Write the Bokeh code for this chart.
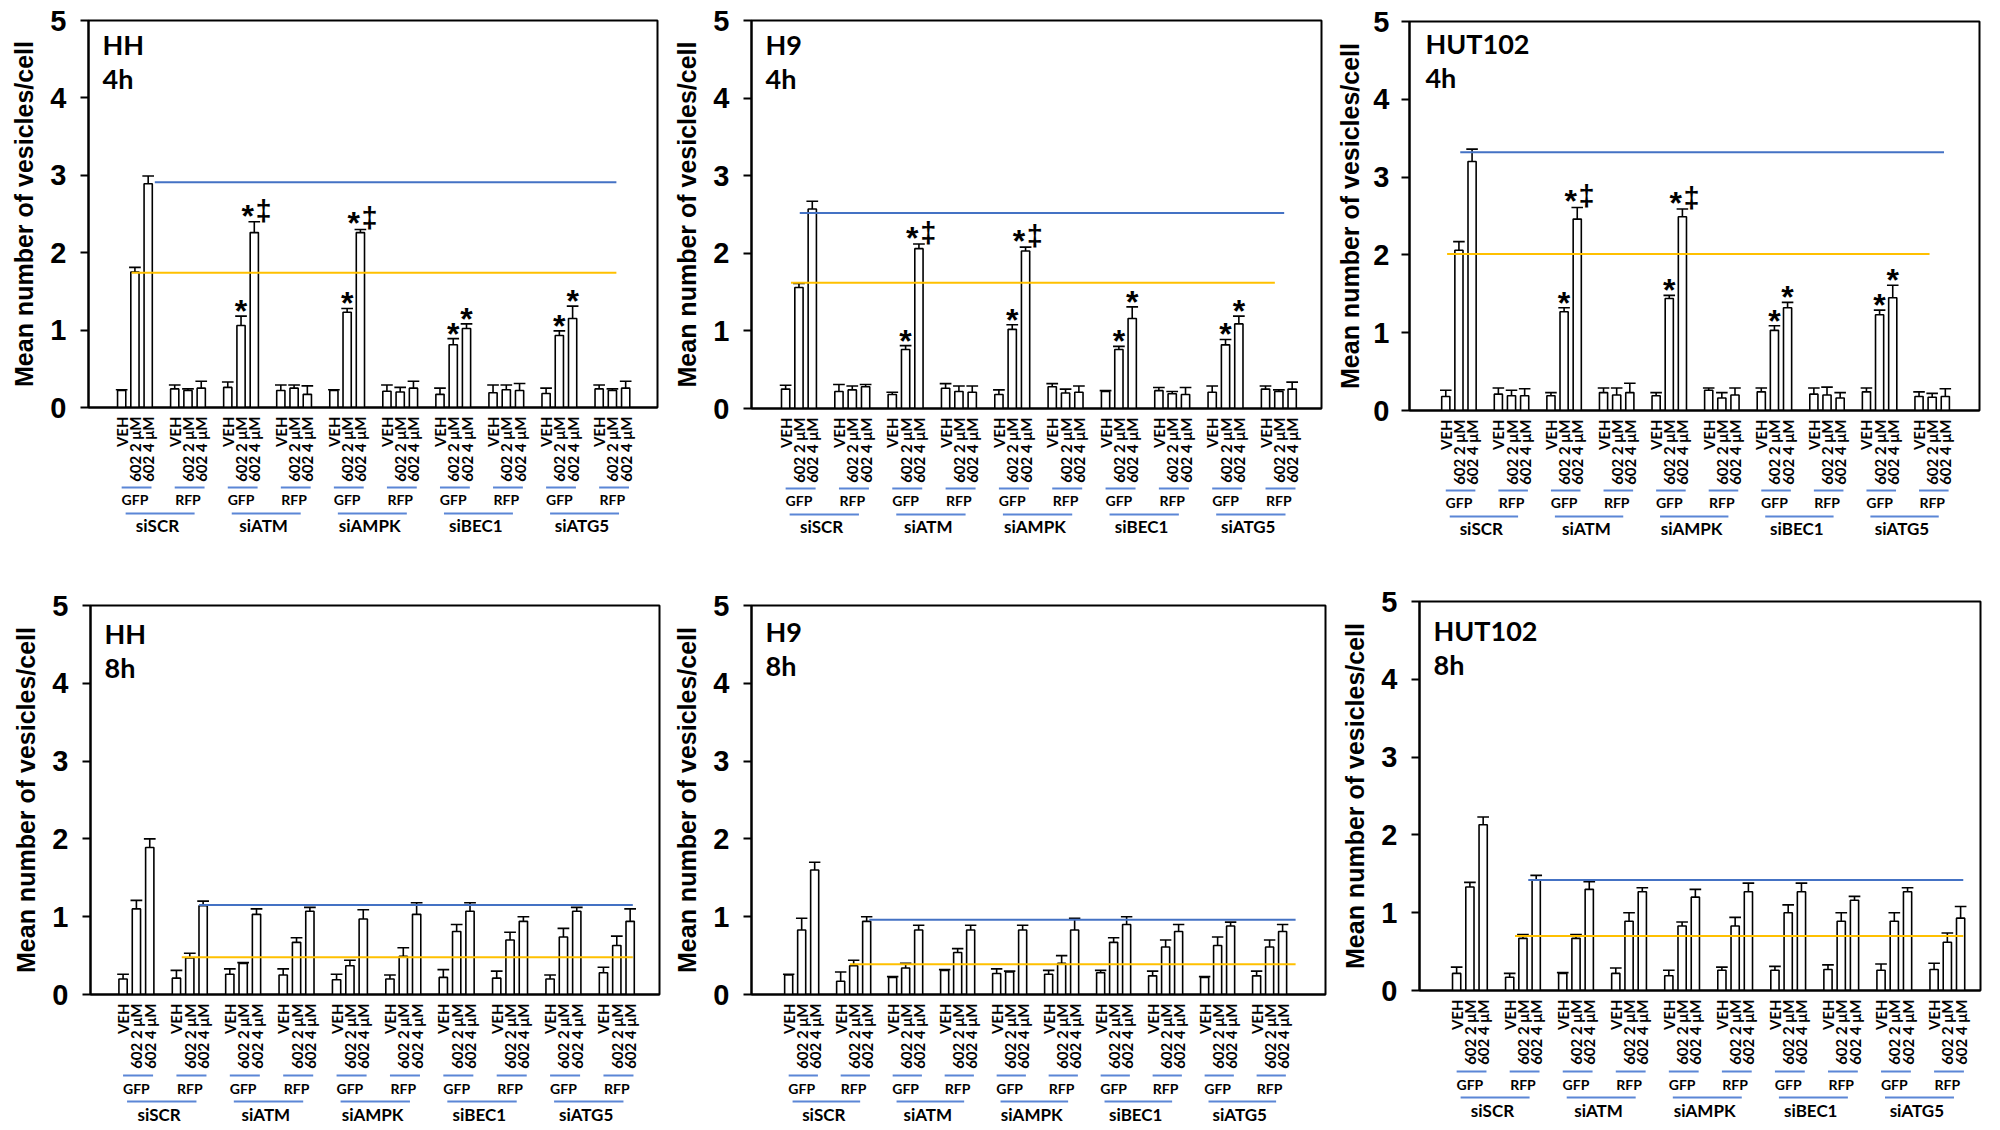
import math
from bokeh.plotting import figure
from bokeh.models import Range1d, FixedTicker, ColumnDataSource
from bokeh.layouts import column, row
from bokeh.embed import file_html
from bokeh.resources import INLINE
from bokeh.core.properties import value

# ---------------- data ----------------
treatments = ["VEH", "602 2 \u03bcM", "602 4 \u03bcM"]
vectors = ["GFP", "RFP"]
sirnas = ["siSCR", "siATM", "siAMPK", "siBEC1", "siATG5"]
y_ticks = [0, 1, 2, 3, 4, 5]
y_title = "Mean number of vesicles/cell"

hh_4h_mean = [0.22, 1.75, 2.89, 0.24, 0.22, 0.25, 0.26, 1.06, 2.26, 0.22, 0.25, 0.17,
              0.22, 1.23, 2.26, 0.21, 0.20, 0.25, 0.17, 0.81, 1.02, 0.19, 0.23, 0.22,
              0.18, 0.93, 1.15, 0.24, 0.22, 0.25]
hh_4h_err = [0.01, 0.06, 0.10, 0.05, 0.02, 0.09, 0.07, 0.12, 0.14, 0.07, 0.04, 0.11,
             0.01, 0.05, 0.04, 0.08, 0.06, 0.09, 0.08, 0.08, 0.06, 0.10, 0.06, 0.09,
             0.07, 0.06, 0.16, 0.05, 0.02, 0.09]

h9_4h_mean = [0.25, 1.56, 2.57, 0.22, 0.24, 0.28, 0.18, 0.76, 2.06, 0.26, 0.22, 0.21,
              0.18, 1.02, 2.03, 0.28, 0.20, 0.21, 0.22, 0.76, 1.16, 0.23, 0.19, 0.18,
              0.21, 0.82, 1.09, 0.25, 0.22, 0.25]
h9_4h_err = [0.05, 0.05, 0.10, 0.09, 0.05, 0.03, 0.03, 0.05, 0.06, 0.06, 0.07, 0.08,
             0.06, 0.06, 0.05, 0.04, 0.05, 0.08, 0.01, 0.04, 0.15, 0.04, 0.03, 0.09,
             0.08, 0.07, 0.10, 0.04, 0.02, 0.09]

hut_4h_mean = [0.18, 2.06, 3.20, 0.21, 0.19, 0.19, 0.19, 1.27, 2.46, 0.23, 0.20, 0.23,
               0.19, 1.44, 2.49, 0.26, 0.16, 0.20, 0.24, 1.03, 1.32, 0.21, 0.20, 0.16,
               0.24, 1.23, 1.45, 0.18, 0.17, 0.18]
hut_4h_err = [0.08, 0.11, 0.16, 0.08, 0.07, 0.09, 0.04, 0.05, 0.15, 0.06, 0.09, 0.12,
              0.04, 0.04, 0.10, 0.03, 0.07, 0.09, 0.05, 0.06, 0.07, 0.08, 0.10, 0.07,
              0.05, 0.06, 0.16, 0.06, 0.05, 0.10]

hh_8h_mean = [0.20, 1.10, 1.89, 0.21, 0.47, 1.14, 0.26, 0.40, 1.03, 0.25, 0.67, 1.07,
              0.19, 0.37, 0.97, 0.20, 0.49, 1.03, 0.22, 0.81, 1.07, 0.21, 0.70, 0.94,
              0.20, 0.74, 1.07, 0.28, 0.63, 0.94]
hh_8h_err = [0.06, 0.11, 0.11, 0.10, 0.06, 0.06, 0.07, 0.01, 0.07, 0.08, 0.06, 0.05,
             0.07, 0.07, 0.12, 0.05, 0.11, 0.15, 0.10, 0.09, 0.11, 0.09, 0.10, 0.06,
             0.05, 0.11, 0.05, 0.07, 0.12, 0.16]

h9_8h_mean = [0.25, 0.83, 1.60, 0.17, 0.37, 0.94, 0.22, 0.34, 0.83, 0.31, 0.54, 0.83,
              0.27, 0.29, 0.83, 0.26, 0.40, 0.83, 0.28, 0.67, 0.90, 0.24, 0.61, 0.81,
              0.22, 0.63, 0.88, 0.24, 0.61, 0.81]
h9_8h_err = [0.01, 0.15, 0.10, 0.12, 0.07, 0.06, 0.01, 0.06, 0.06, 0.01, 0.05, 0.06,
             0.06, 0.01, 0.06, 0.05, 0.10, 0.15, 0.03, 0.06, 0.10, 0.06, 0.09, 0.09,
             0.01, 0.11, 0.05, 0.06, 0.09, 0.09]

hut_8h_mean = [0.22, 1.33, 2.13, 0.17, 0.67, 1.42, 0.22, 0.67, 1.30, 0.22, 0.89, 1.27,
               0.19, 0.83, 1.20, 0.26, 0.83, 1.27, 0.26, 1.00, 1.27, 0.27, 0.89, 1.16,
               0.26, 0.89, 1.27, 0.27, 0.62, 0.93]
hut_8h_err = [0.08, 0.06, 0.10, 0.05, 0.05, 0.06, 0.01, 0.05, 0.10, 0.07, 0.11, 0.05,
              0.07, 0.05, 0.10, 0.04, 0.11, 0.11, 0.05, 0.10, 0.11, 0.06, 0.11, 0.05,
              0.08, 0.11, 0.05, 0.08, 0.12, 0.15]

star_bars_4h = [7, 8, 13, 14, 19, 20, 25, 26]
dagger_bars_4h = [8, 14]

ref_blue = [2.91, 2.52, 3.32, 1.15, 0.96, 1.42]
ref_yellow = [1.74, 1.62, 2.01, 0.48, 0.39, 0.70]

panels = [
    dict(cell="HH", time="4h", mean=hh_4h_mean, err=hh_4h_err, stars=star_bars_4h, daggers=dagger_bars_4h),
    dict(cell="H9", time="4h", mean=h9_4h_mean, err=h9_4h_err, stars=star_bars_4h, daggers=dagger_bars_4h),
    dict(cell="HUT102", time="4h", mean=hut_4h_mean, err=hut_4h_err, stars=star_bars_4h, daggers=dagger_bars_4h),
    dict(cell="HH", time="8h", mean=hh_8h_mean, err=hh_8h_err, stars=[], daggers=[]),
    dict(cell="H9", time="8h", mean=h9_8h_mean, err=h9_8h_err, stars=[], daggers=[]),
    dict(cell="HUT102", time="8h", mean=hut_8h_mean, err=hut_8h_err, stars=[], daggers=[]),
]

# ---------------- layout / style ----------------
ROW_H = [566, 564]
AX_B = 68  # space below the frame for the rotated treatment labels
# (width, row, border l, r, t, frame h, x range, blue ext, yellow ext,
#  label rows below axis, panel-label offsets, y standoffs)
geos = [
    (666, 0, 88, 9, 20, 396, (-2.5, 40.4), (2.5, 37.3), (0.75, 37.3), (71, 83, 97, 109), (14, 25, 59), (14, 9)),
    (667, 0, 85, 12, 20, 397, (-2.56, 40.2), (1.06, 37.4), (0.4, 36.7), (71, 83, 97, 109), (14, 25, 59), (14, 9)),
    (667, 0, 74, 21, 21, 398, (-2.76, 40.6), (1.1, 37.9), (0.1, 36.8), (71, 83, 97, 109), (16, 23, 57), (12, 6)),
    (666, 1, 90, 7, 39, 398, (-2.44, 40.2), (5.7, 38.2), (4.4, 38.2), (72, 85, 98, 111), (14, 29, 63), (14, 9)),
    (667, 1, 85, 8, 39, 398, (-2.86, 41.3), (6.2, 39.0), (4.7, 39.0), (72, 85, 98, 111), (14, 27, 61), (14, 9)),
    (667, 1, 86, 20, 35, 398, (-2.8, 39.5), (5.4, 38.2), (4.4, 38.2), (72, 85, 98, 111), (14, 30, 64), (14, 9)),
]

BLUE = "#4472C4"
YELLOW = "#FFC000"
ULINE = "#5B86D6"
LAB_FONT = "Lato"
NUM_FONT = "Liberation Sans"


def bar_slot(i):
    return 4 * (i // 3) + (i % 3)


def make_panel(k, spec, geo):
    W, r, bl, br, bt, fh, (x0, x1), bext, yext, rows, lab, stand = geo
    H = bt + fh + AX_B
    lab_h = ROW_H[r] - H
    fw = W - bl - br
    ux = fw / (x1 - x0)
    uy = fh / 5.0
    xr = Range1d(x0, x1)

    p = figure(width=W, height=H, x_range=xr, y_range=Range1d(0, 5),
               output_backend="svg", toolbar_location=None,
               min_border_left=bl, min_border_right=br, min_border_top=bt, min_border_bottom=AX_B)
    p.grid.visible = False
    p.outline_line_color = "black"
    p.outline_line_width = 2
    p.background_fill_color = "white"
    p.border_fill_color = "white"

    mean = spec["mean"]
    err = spec["err"]
    xs = [bar_slot(i) for i in range(len(mean))]
    caps = [m + e for m, e in zip(mean, err)]
    src = ColumnDataSource(dict(x=xs, top=mean, cap=caps,
                                cx0=[x - 0.44 for x in xs], cx1=[x + 0.44 for x in xs]))
    p.vbar(x="x", top="top", bottom=0, width=0.62, source=src,
           fill_color="white", line_color="black", line_width=1.6)
    p.segment(x0="x", y0="top", x1="x", y1="cap", source=src, line_color="black", line_width=1.6)
    p.segment(x0="cx0", y0="cap", x1="cx1", y1="cap", source=src, line_color="black", line_width=1.6)

    # reference lines
    p.segment(x0=[bext[0]], y0=[ref_blue[k]], x1=[bext[1]], y1=[ref_blue[k]],
              line_color=BLUE, line_width=2)
    p.segment(x0=[yext[0]], y0=[ref_yellow[k]], x1=[yext[1]], y1=[ref_yellow[k]],
              line_color=YELLOW, line_width=2)

    # significance marks
    st_x, st_y, st_off = [], [], []
    for i in spec["stars"]:
        both = i in spec["daggers"]
        st_x.append(xs[i] - (0.5 if both else 0.0))
        st_y.append(caps[i])
        st_off.append(-6 if both else -5)
    if st_x:
        ssrc = ColumnDataSource(dict(x=st_x, y=st_y, t=["*"] * len(st_x), off=st_off))
        p.text(x="x", y="y", text="t", y_offset="off", source=ssrc, text_align="center",
               text_baseline="middle", text_font=value(NUM_FONT), text_font_style="bold",
               text_font_size="32px", text_color="black")
    dg = spec["daggers"]
    if dg:
        dsrc = ColumnDataSource(dict(x=[xs[i] + 0.7 for i in dg], y=[caps[i] for i in dg],
                                     t=["\u2021"] * len(dg)))
        p.text(x="x", y="y", text="t", y_offset=-11, source=dsrc, text_align="center",
               text_baseline="middle", text_font=value(NUM_FONT), text_font_style="bold",
               text_font_size="29px", text_color="black")

    # panel labels (cell line, time)
    lsrc = ColumnDataSource(dict(x=[x0 + lab[0] / ux] * 2,
                                 y=[5 - lab[1] / uy, 5 - lab[2] / uy],
                                 t=[spec["cell"], spec["time"]]))
    p.text(x="x", y="y", text="t", source=lsrc, text_align="left", text_baseline="middle",
           text_font=value(LAB_FONT), text_font_style="bold", text_font_size="27px",
           text_color="black")

    # y axis
    yax = p.yaxis[0]
    yax.ticker = FixedTicker(ticks=y_ticks, minor_ticks=[])
    yax.axis_label = y_title
    yax.axis_label_text_font = NUM_FONT
    yax.axis_label_text_font_size = "25px"
    yax.axis_label_text_font_style = "bold"
    yax.axis_label_text_color = "black"
    yax.axis_label_standoff = stand[1]
    yax.major_label_text_font = NUM_FONT
    yax.major_label_text_font_size = "29px"
    yax.major_label_text_font_style = "bold"
    yax.major_label_text_color = "black"
    yax.major_label_standoff = stand[0]
    yax.major_tick_out = 8
    yax.major_tick_in = 0
    yax.major_tick_line_width = 2
    yax.major_tick_line_color = "black"
    yax.minor_tick_line_color = None
    yax.axis_line_width = 2
    yax.axis_line_color = "black"

    # x axis: treatment labels
    xax = p.xaxis[0]
    xax.ticker = FixedTicker(ticks=xs, minor_ticks=[])
    xax.major_label_overrides = {x: treatments[i % 3] for i, x in enumerate(xs)}
    xax.major_label_orientation = math.pi / 2
    xax.major_tick_line_color = None
    xax.minor_tick_line_color = None
    xax.major_label_text_font = LAB_FONT
    xax.major_label_text_font_style = "bold"
    xax.major_label_text_font_size = "15px"
    xax.major_label_text_color = "black"
    xax.major_label_standoff = 3
    xax.axis_line_width = 2
    xax.axis_line_color = "black"

    # strip below the axis: vector / siRNA labels with their underlines
    q = figure(width=W, height=lab_h, x_range=xr, y_range=Range1d(lab_h, 0),
               output_backend="svg", toolbar_location=None,
               x_axis_location=None, y_axis_location=None,
               min_border_left=bl, min_border_right=br, min_border_top=0, min_border_bottom=0)
    q.grid.visible = False
    q.outline_line_color = None
    q.background_fill_color = "white"
    q.border_fill_color = "white"

    r_vline, r_vtext, r_sline, r_stext = [v - AX_B for v in rows]
    vx = [4 * g + 1 for g in range(10)]
    vt = [vectors[g % 2] for g in range(10)]
    q.segment(x0=[4 * g for g in range(10)], x1=[4 * g + 2.25 for g in range(10)],
              y0=[r_vline] * 10, y1=[r_vline] * 10, line_color=ULINE, line_width=2)
    q.text(x=vx, y=[r_vtext] * 10, text=vt, text_align="center", text_baseline="middle",
           text_font=value(LAB_FONT), text_font_style="bold", text_font_size="14px",
           text_color="black")
    q.segment(x0=[8 * g + 0.3 for g in range(5)], x1=[8 * g + 5.5 for g in range(5)],
              y0=[r_sline] * 5, y1=[r_sline] * 5, line_color=ULINE, line_width=2)
    q.text(x=[8 * g + 2.7 for g in range(5)], y=[r_stext] * 5, text=sirnas,
           text_align="center", text_baseline="middle",
           text_font=value(LAB_FONT), text_font_style="bold", text_font_size="17px",
           text_color="black")
    return column(p, q)


cols = [make_panel(k, spec, geo) for k, (spec, geo) in enumerate(zip(panels, geos))]
layout = column(row(*cols[:3]), row(*cols[3:]))

open("out.html", "w").write(file_html(layout, INLINE))
